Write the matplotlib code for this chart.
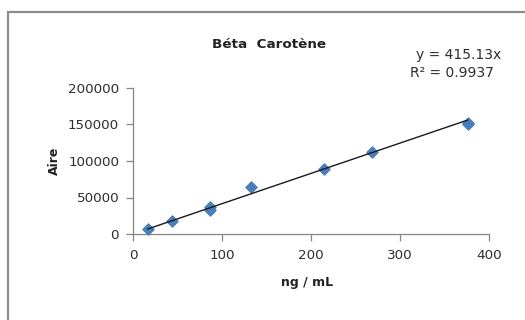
import matplotlib
matplotlib.use("Agg")
import matplotlib.pyplot as plt
from matplotlib.patches import Rectangle
import numpy as np

# Calibration data: concentration (ng/mL) vs. peak area
conc = [16.5, 43.5, 86, 86, 133, 215, 268, 376, 376]
aire = [7000, 18000, 37000, 33000, 64000, 88500, 113000, 152500, 150000]
slope = 415.13
r2 = 0.9937

x_ticks = [0, 100, 200, 300, 400]
y_ticks = [0, 50000, 100000, 150000, 200000]

plt.rcParams['font.family'] = ['DejaVu Sans']

fig = plt.figure(figsize=(5.25, 3.2), dpi=100)
fig.patch.set_facecolor('white')

# Chart-area frame
fig.patches.append(Rectangle((7.5 / 525, -0.1), 1.2, 1 - 12 / 320 + 0.1,
                             transform=fig.transFigure, fill=False,
                             edgecolor='#8c8c8c', linewidth=1.6))

ax = fig.add_axes([133 / 525, 1 - 234 / 320, (489 - 133) / 525, (234 - 88) / 320])
ax.set_xlim(0, 400)
ax.set_ylim(0, 200000)
ax.set_xticks(x_ticks)
ax.set_yticks(y_ticks)
ax.set_xticklabels([str(t) for t in x_ticks])
ax.set_yticklabels([str(t) for t in y_ticks])

for s in ['top', 'right']:
    ax.spines[s].set_visible(False)
for s in ['left', 'bottom']:
    ax.spines[s].set_color('#868686')
    ax.spines[s].set_linewidth(0.9)
ax.tick_params(axis='both', colors='#868686', length=5, width=0.9,
               labelcolor='#2e2e2e', labelsize=9.7)
ax.tick_params(axis='x', pad=6)
ax.tick_params(axis='y', pad=5)

ax.scatter(conc, aire, marker='D', s=32, color='#4a7ebb', edgecolors='#4a7ebb',
           zorder=3, clip_on=False)

# Linear trendline through origin over the data range
xl = np.array([min(conc), max(conc)])
ax.plot(xl, slope * xl, color='#1a1a1a', linewidth=1.0, zorder=4)

fig.text(269 / 525, 1 - 45 / 320, 'Béta  Carotène', ha='center', va='center',
         fontsize=9.7, fontweight='bold', color='#222222')
fig.text(459 / 525, 1 - 55 / 320, f'y = {slope}x', ha='center', va='center',
         fontsize=10, color='#2e2e2e')
fig.text(452 / 525, 1 - 73 / 320, f'R² = {r2}', ha='center', va='center',
         fontsize=10, color='#2e2e2e')

ax.set_xlabel('ng / mL', fontsize=9, fontweight='bold', color='#222222', labelpad=10)
ax.xaxis.label.set_x((307 - 133) / (489 - 133))
ax.set_ylabel('Aire', fontsize=9, fontweight='bold', color='#222222', labelpad=5)

fig.savefig('out.png', dpi=100, facecolor='white')
